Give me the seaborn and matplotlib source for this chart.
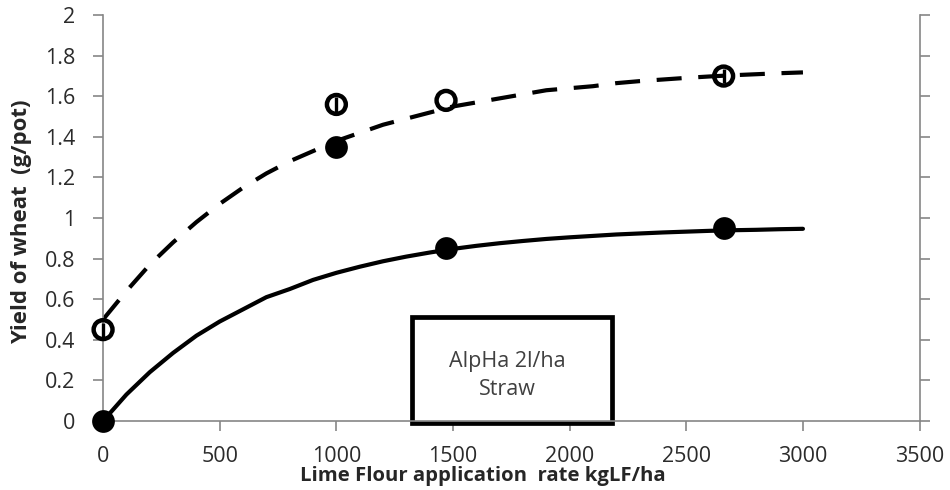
import matplotlib
matplotlib.use("Agg")
import matplotlib.pyplot as plt
import seaborn as sns
import pandas as pd
from matplotlib.patches import Rectangle

# measured points
rate = [0, 1000, 1470, 2660]
yield_open = [0.45, 1.56, 1.58, 1.70]
yield_open_err = [0.035, 0.035, 0.0, 0.035]
yield_filled = [0.0, 1.35, 0.85, 0.95]

# fitted curves, every 100 kg/ha
curve_x = list(range(0, 3001, 100))
curve_dashed = [0.50, 0.64, 0.77, 0.88, 0.98, 1.07, 1.15, 1.22, 1.28, 1.33,
                1.38, 1.42, 1.46, 1.49, 1.52, 1.55, 1.57, 1.59, 1.61, 1.63,
                1.64, 1.65, 1.665, 1.675, 1.683, 1.691, 1.698, 1.704, 1.709,
                1.714, 1.718]
curve_solid = [0.0, 0.13, 0.24, 0.335, 0.42, 0.49, 0.55, 0.61, 0.65, 0.695,
               0.73, 0.76, 0.787, 0.81, 0.83, 0.848, 0.863, 0.876, 0.887,
               0.897, 0.905, 0.912, 0.919, 0.924, 0.929, 0.933, 0.937, 0.94,
               0.942, 0.945, 0.947]

x_ticks = [0, 500, 1000, 1500, 2000, 2500, 3000, 3500]
y_ticks = [0, 0.2, 0.4, 0.6, 0.8, 1, 1.2, 1.4, 1.6, 1.8, 2]

sns.set_style("white")
plt.rcParams['font.family'] = ['Open Sans', 'DejaVu Sans']

fig = plt.figure(figsize=(9.5, 4.9), dpi=100)
ax = fig.add_axes([0.1085, 0.141, 0.8595, 0.828])

curves = pd.DataFrame({"x": curve_x, "dashed": curve_dashed, "solid": curve_solid})
sns.lineplot(data=curves, x="x", y="dashed", ax=ax, color="black", lw=3,
             zorder=2).lines[-1].set_dashes([6, 4])
sns.lineplot(data=curves, x="x", y="solid", ax=ax, color="black", lw=3, zorder=2)

ax.errorbar(rate, yield_open, yerr=yield_open_err, fmt="none", ecolor="black",
            elinewidth=2.4, capsize=0, zorder=3, clip_on=False)
pts = pd.DataFrame({"rate": rate, "open": yield_open, "filled": yield_filled})
sns.scatterplot(data=pts, x="rate", y="open", ax=ax, marker="o", s=185,
                facecolor="none", edgecolor="black", linewidth=3.2, zorder=4,
                clip_on=False)
sns.scatterplot(data=pts, x="rate", y="filled", ax=ax, marker="o", s=230,
                color="black", edgecolor="black", zorder=4, clip_on=False)

ax.set_xlim(0, 3500)
ax.set_ylim(0, 2)
ax.set_xticks(x_ticks)
ax.set_yticks(y_ticks)
ax.set_xticklabels([str(v) for v in x_ticks])
ax.set_yticklabels([f"{v:g}" for v in y_ticks])

spine_col = "#868686"
for side in ["left", "right", "bottom"]:
    ax.spines[side].set_color(spine_col)
    ax.spines[side].set_linewidth(1.2)
ax.spines["top"].set_visible(False)
ax.tick_params(axis="both", direction="out", length=7, width=1.2,
               color=spine_col, labelsize=15.5, labelcolor="#2b2b2b")
ax.tick_params(axis="y", right=True, left=True, pad=13)
ax.tick_params(axis="x", bottom=True, pad=11)

ax.set_xlabel("Lime Flour application  rate kgLF/ha", fontsize=14.6,
              fontweight="bold", va="baseline")
ax.xaxis.set_label_coords(0.465, -0.148)
ax.set_ylabel("Yield of wheat  (g/pot)", fontsize=16, fontweight="bold",
              va="center")
ax.yaxis.set_label_coords(-0.1, 0.49)

box = Rectangle((0.378, -0.004), 0.245, 0.26, transform=ax.transAxes,
                facecolor="white", edgecolor="black", linewidth=3.4,
                zorder=1, clip_on=False)
ax.add_patch(box)
ax.text(0.495, 0.111, "AlpHa 2l/ha\nStraw", transform=ax.transAxes,
        ha="center", va="center", fontsize=15.5, color="#404040",
        linespacing=1.45, zorder=5)

fig.savefig("out.png", dpi=100)
